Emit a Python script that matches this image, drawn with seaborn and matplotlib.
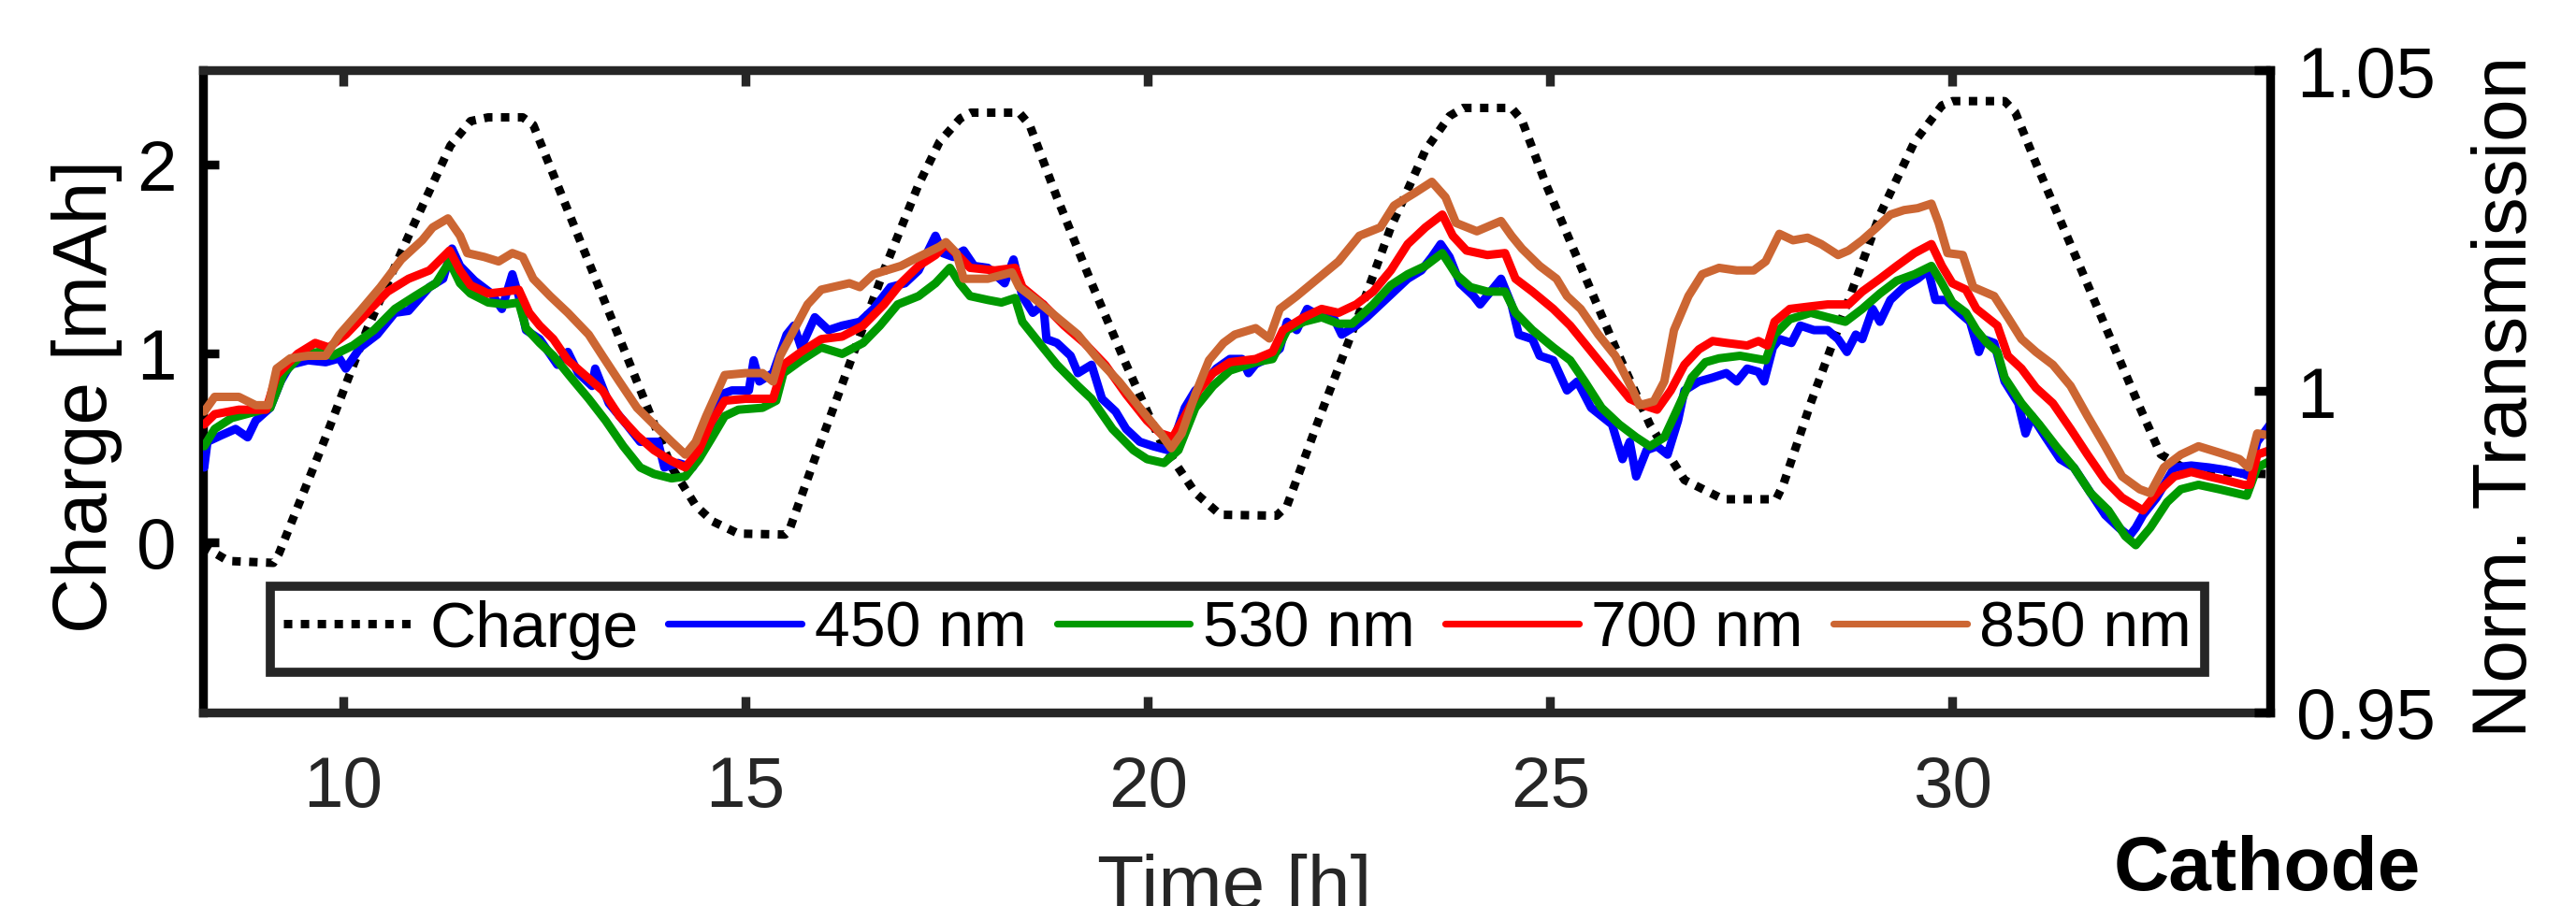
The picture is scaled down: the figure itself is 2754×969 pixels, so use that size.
import numpy as np
import pandas as pd
import matplotlib
matplotlib.use("Agg")
import matplotlib.pyplot as plt
from matplotlib.lines import Line2D
import seaborn as sns

# ---------------- data ----------------
charge_t = [8.25, 8.33, 8.57, 9.13, 9.20, 9.78, 10.29, 10.81, 11.33, 11.58, 11.80, 12.23, 12.36,
            12.79, 13.22, 13.65, 14.08, 14.38, 14.59, 14.91, 15.49, 15.54, 15.86, 16.29, 16.72,
            17.15, 17.41, 17.67, 17.80, 18.40, 18.53, 18.87, 19.30, 19.73, 20.16, 20.59, 20.90,
            21.60, 21.73, 22.16, 22.59, 23.02, 23.45, 23.75, 23.92, 24.52, 24.65, 24.95, 25.38,
            25.81, 26.24, 26.67, 27.10, 27.19, 27.81, 27.90, 28.24, 28.67, 29.10, 29.53, 29.87,
            30.00, 30.65, 30.78, 31.04, 31.47, 31.90, 32.33, 32.59, 32.85, 33.20, 33.95]
charge_mah = [-0.02, -0.04, -0.10, -0.11, -0.06, 0.556, 1.123, 1.622, 2.10, 2.23, 2.25, 2.25, 2.21,
              1.757, 1.304, 0.85, 0.397, 0.193, 0.11, 0.045, 0.04, 0.06, 0.442, 0.941, 1.44,
              1.894, 2.12, 2.245, 2.275, 2.275, 2.21, 1.826, 1.372, 0.941, 0.533, 0.261, 0.145,
              0.14, 0.193, 0.69, 1.168, 1.667, 2.076, 2.257, 2.30, 2.30, 2.234, 1.894, 1.462,
              1.032, 0.623, 0.329, 0.238, 0.227, 0.227, 0.306, 0.737, 1.236, 1.735, 2.12, 2.313,
              2.336, 2.336, 2.279, 2.007, 1.576, 1.145, 0.714, 0.465, 0.40, 0.37, 0.36]

t_450 = [8.27, 8.31, 8.48, 8.66, 8.81, 8.91, 9.09, 9.22, 9.34, 9.56, 9.78, 9.95, 10.03, 10.21, 10.42,
         10.64, 10.81, 11.07, 11.24, 11.35, 11.45, 11.63, 11.84, 11.97, 12.10, 12.18, 12.27, 12.44,
         12.66, 12.79, 12.92, 13.09, 13.13, 13.30, 13.52, 13.69, 13.91, 13.99, 14.16, 14.34, 14.51,
         14.70, 14.83, 15.04, 15.10, 15.17, 15.34, 15.51, 15.60, 15.69, 15.86, 16.03, 16.20, 16.42,
         16.59, 16.80, 16.98, 17.15, 17.36, 17.45, 17.58, 17.71, 17.84, 18.01, 18.22, 18.33, 18.44,
         18.57, 18.70, 18.74, 18.87, 19.04, 19.13, 19.30, 19.43, 19.60, 19.73, 19.90, 20.07, 20.25,
         20.35, 20.46, 20.59, 20.72, 20.85, 21.02, 21.17, 21.25, 21.34, 21.51, 21.64, 21.73, 21.85,
         21.98, 22.16, 22.28, 22.41, 22.59, 22.72, 22.89, 23.06, 23.23, 23.40, 23.53, 23.64, 23.75,
         23.88, 24.05, 24.13, 24.26, 24.39, 24.52, 24.61, 24.78, 24.87, 25.04, 25.21, 25.34, 25.51,
         25.64, 25.77, 25.90, 25.99, 26.07, 26.20, 26.33, 26.46, 26.59, 26.67, 26.85, 27.02, 27.19,
         27.32, 27.45, 27.59, 27.66, 27.77, 27.85, 28.00, 28.11, 28.28, 28.45, 28.58, 28.69, 28.80,
         28.88, 29.01, 29.10, 29.23, 29.40, 29.57, 29.70, 29.79, 29.92, 30.09, 30.22, 30.33, 30.39,
         30.52, 30.65, 30.82, 30.91, 30.99, 31.16, 31.34, 31.51, 31.72, 31.90, 32.07, 32.20, 32.28,
         32.37, 32.54, 32.76, 32.97, 33.19, 33.40, 33.62, 33.68, 33.79, 33.95]
tr_450 = [0.9881, 0.9921, 0.9931, 0.9941, 0.9928, 0.9954, 0.9974, 1.0015, 1.0041, 1.0048, 1.0045,
          1.0051, 1.0035, 1.0068, 1.0088, 1.0122, 1.0125, 1.0162, 1.0175, 1.0222, 1.0195, 1.0172,
          1.0152, 1.0128, 1.0182, 1.0148, 1.0095, 1.0081, 1.0041, 1.0061, 1.0028, 1.0008, 1.0035,
          0.9981, 0.9948, 0.9921, 0.9921, 0.9881, 0.9888, 0.9881, 0.9921, 0.9995, 1.0001, 1.0001,
          1.0048, 1.0015, 1.0028, 1.0088, 1.0102, 1.0068, 1.0115, 1.0095, 1.0102, 1.0108, 1.0128,
          1.0162, 1.0168, 1.0188, 1.0242, 1.0215, 1.0209, 1.0219, 1.0195, 1.0192, 1.0168, 1.0205,
          1.0148, 1.0122, 1.0135, 1.0081, 1.0075, 1.0055, 1.0028, 1.0041, 0.9988, 0.9968, 0.9941,
          0.9921, 0.9914, 0.9908, 0.9934, 0.9974, 1.0001, 1.0015, 1.0035, 1.0050, 1.0050, 1.0028,
          1.0042, 1.0052, 1.0066, 1.0108, 1.0095, 1.0128, 1.0115, 1.0122, 1.0088, 1.0102, 1.0115,
          1.0135, 1.0155, 1.0175, 1.0188, 1.0209, 1.0229, 1.0209, 1.0168, 1.0148, 1.0135, 1.0155,
          1.0175, 1.0135, 1.0088, 1.0081, 1.0055, 1.0048, 1.0001, 1.0015, 0.9974, 0.9961, 0.9948,
          0.9894, 0.9921, 0.9867, 0.9908, 0.9914, 0.9901, 0.9954, 1.0001, 1.0015, 1.0021, 1.0028,
          1.0015, 1.0035, 1.0030, 1.0015, 1.0068, 1.0081, 1.0075, 1.0102, 1.0095, 1.0095, 1.0081,
          1.0061, 1.0088, 1.0081, 1.0128, 1.0108, 1.0142, 1.0162, 1.0175, 1.0188, 1.0142, 1.0142,
          1.0122, 1.0108, 1.0061, 1.0081, 1.0075, 1.0015, 0.9981, 0.9934, 0.9961, 0.9928, 0.9894,
          0.9881, 0.9841, 0.9807, 0.9787, 0.9774, 0.9787, 0.9807, 0.9834, 0.9881, 0.9884, 0.9881,
          0.9877, 0.9871, 0.9868, 0.9921, 0.9948]

t_530 = [8.27, 8.40, 8.61, 8.91, 9.09, 9.26, 9.47, 9.69, 9.86, 10.12, 10.38, 10.64, 10.89, 11.15,
         11.32, 11.45, 11.58, 11.80, 12.01, 12.18, 12.27, 12.44, 12.61, 12.83, 13.05, 13.26, 13.48,
         13.69, 13.86, 14.08, 14.25, 14.42, 14.57, 14.74, 14.91, 15.21, 15.38, 15.47, 15.69, 15.94,
         16.20, 16.46, 16.67, 16.89, 17.15, 17.36, 17.54, 17.66, 17.79, 18.01, 18.18, 18.35, 18.44,
         18.65, 18.87, 19.13, 19.30, 19.56, 19.82, 19.99, 20.20, 20.38, 20.59, 20.81, 21.02, 21.34,
         21.55, 21.73, 21.94, 22.16, 22.37, 22.54, 22.80, 23.02, 23.23, 23.45, 23.66, 23.83, 24.01,
         24.22, 24.44, 24.57, 24.78, 25.04, 25.25, 25.43, 25.64, 25.86, 26.07, 26.24, 26.42, 26.59,
         26.76, 26.93, 27.10, 27.36, 27.59, 27.68, 27.79, 27.98, 28.24, 28.45, 28.67, 28.88, 29.10,
         29.31, 29.53, 29.74, 29.87, 30.00, 30.17, 30.30, 30.43, 30.56, 30.65, 30.86, 31.08, 31.29,
         31.51, 31.72, 31.94, 32.15, 32.28, 32.46, 32.67, 32.84, 33.06, 33.32, 33.66, 33.79, 33.95]
tr_530 = [0.9914, 0.9941, 0.9958, 0.9968, 0.9974, 1.0028, 1.0055, 1.0061, 1.0055, 1.0071, 1.0095,
          1.0128, 1.0148, 1.0168, 1.0202, 1.0168, 1.0152, 1.0138, 1.0135, 1.0138, 1.0098, 1.0075,
          1.0055, 1.0021, 0.9988, 0.9954, 0.9914, 0.9881, 0.9871, 0.9864, 0.9867, 0.9894, 0.9925,
          0.9961, 0.9971, 0.9974, 0.9985, 1.0028, 1.0048, 1.0068, 1.0058, 1.0075, 1.0102, 1.0135,
          1.0148, 1.0168, 1.0192, 1.0168, 1.0148, 1.0142, 1.0138, 1.0145, 1.0108, 1.0075, 1.0041,
          1.0008, 0.9988, 0.9941, 0.9908, 0.9894, 0.9888, 0.9908, 0.9974, 1.0008, 1.0032, 1.0045,
          1.0050, 1.0095, 1.0108, 1.0115, 1.0105, 1.0105, 1.0135, 1.0165, 1.0182, 1.0195, 1.0215,
          1.0182, 1.0162, 1.0155, 1.0155, 1.0122, 1.0095, 1.0068, 1.0048, 1.0015, 0.9974, 0.9948,
          0.9928, 0.9914, 0.9928, 0.9974, 1.0021, 1.0045, 1.0051, 1.0055, 1.0050, 1.0048, 1.0088,
          1.0112, 1.0122, 1.0115, 1.0108, 1.0128, 1.0152, 1.0172, 1.0182, 1.0195, 1.0168, 1.0138,
          1.0122, 1.0095, 1.0075, 1.0061, 1.0021, 0.9981, 0.9948, 0.9914, 0.9881, 0.9841, 0.9814,
          0.9774, 0.9760, 0.9787, 0.9827, 0.9847, 0.9854, 0.9847, 0.9837, 0.9881, 0.9891]

t_700 = [8.27, 8.40, 8.70, 9.04, 9.17, 9.43, 9.65, 9.82, 10.03, 10.29, 10.55, 10.81, 11.07, 11.32,
         11.45, 11.58, 11.80, 12.01, 12.18, 12.31, 12.44, 12.61, 12.79, 13.00, 13.22, 13.43, 13.65,
         13.86, 14.08, 14.25, 14.42, 14.57, 14.74, 15.00, 15.34, 15.47, 15.69, 15.94, 16.20, 16.46,
         16.72, 16.93, 17.15, 17.36, 17.49, 17.66, 17.79, 18.10, 18.35, 18.44, 18.70, 18.96, 19.21,
         19.47, 19.73, 19.99, 20.16, 20.31, 20.46, 20.63, 20.81, 21.02, 21.34, 21.55, 21.68, 21.94,
         22.16, 22.37, 22.59, 22.80, 23.02, 23.23, 23.45, 23.66, 23.79, 23.96, 24.22, 24.44, 24.57,
         24.78, 25.04, 25.25, 25.47, 25.73, 25.99, 26.16, 26.33, 26.50, 26.67, 26.85, 27.02, 27.19,
         27.45, 27.59, 27.70, 27.79, 27.98, 28.24, 28.45, 28.71, 28.88, 29.10, 29.31, 29.53, 29.74,
         29.87, 30.00, 30.17, 30.30, 30.56, 30.69, 30.86, 31.04, 31.25, 31.47, 31.68, 31.90, 32.11,
         32.37, 32.54, 32.76, 32.97, 33.19, 33.40, 33.62, 33.70, 33.79, 33.95]
tr_700 = [0.9948, 0.9964, 0.9971, 0.9971, 1.0025, 1.0058, 1.0075, 1.0068, 1.0088, 1.0122, 1.0155,
          1.0175, 1.0188, 1.0219, 1.0188, 1.0165, 1.0152, 1.0155, 1.0158, 1.0122, 1.0102, 1.0081,
          1.0048, 1.0025, 1.0001, 0.9961, 0.9931, 0.9908, 0.9891, 0.9881, 0.9908, 0.9951, 0.9985,
          0.9988, 0.9988, 1.0041, 1.0061, 1.0081, 1.0085, 1.0102, 1.0135, 1.0168, 1.0195, 1.0212,
          1.0229, 1.0209, 1.0192, 1.0188, 1.0192, 1.0162, 1.0135, 1.0102, 1.0075, 1.0041, 0.9995,
          0.9954, 0.9934, 0.9928, 0.9961, 1.0001, 1.0028, 1.0045, 1.0050, 1.0061, 1.0095, 1.0115,
          1.0128, 1.0122, 1.0135, 1.0155, 1.0188, 1.0229, 1.0255, 1.0275, 1.0242, 1.0219, 1.0212,
          1.0215, 1.0175, 1.0155, 1.0128, 1.0102, 1.0068, 1.0028, 0.9988, 0.9978, 0.9971, 1.0001,
          1.0041, 1.0065, 1.0078, 1.0075, 1.0071, 1.0078, 1.0071, 1.0108, 1.0128, 1.0132, 1.0135,
          1.0135, 1.0155, 1.0175, 1.0195, 1.0215, 1.0229, 1.0195, 1.0168, 1.0158, 1.0128, 1.0102,
          1.0055, 1.0035, 1.0005, 0.9981, 0.9941, 0.9901, 0.9861, 0.9834, 0.9814, 0.9841, 0.9867,
          0.9874, 0.9867, 0.9861, 0.9854, 0.9854, 0.9901, 0.9908]

t_850 = [8.27, 8.40, 8.70, 8.91, 9.07, 9.17, 9.34, 9.56, 9.78, 9.95, 10.21, 10.46, 10.72, 10.98,
         11.11, 11.30, 11.45, 11.54, 11.75, 11.93, 12.10, 12.23, 12.36, 12.57, 12.79, 13.05, 13.22,
         13.43, 13.65, 13.86, 14.08, 14.25, 14.38, 14.51, 14.74, 15.00, 15.21, 15.34, 15.43, 15.60,
         15.77, 15.94, 16.29, 16.42, 16.59, 16.93, 17.15, 17.41, 17.49, 17.62, 17.71, 18.01, 18.31,
         18.40, 18.61, 18.87, 19.13, 19.39, 19.64, 19.90, 20.16, 20.29, 20.42, 20.59, 20.76, 20.94,
         21.08, 21.34, 21.51, 21.64, 21.85, 22.11, 22.37, 22.63, 22.89, 23.06, 23.32, 23.53, 23.70,
         23.83, 24.09, 24.39, 24.52, 24.65, 24.87, 25.08, 25.21, 25.38, 25.60, 25.81, 26.03, 26.11,
         26.29, 26.42, 26.54, 26.72, 26.89, 27.10, 27.32, 27.53, 27.68, 27.81, 27.85, 28.02, 28.20,
         28.37, 28.58, 28.71, 28.88, 29.06, 29.23, 29.40, 29.57, 29.74, 29.83, 29.94, 30.13, 30.26,
         30.52, 30.69, 30.86, 31.04, 31.25, 31.47, 31.68, 31.90, 32.11, 32.33, 32.46, 32.63, 32.84,
         33.06, 33.32, 33.57, 33.68, 33.79, 33.95]
tr_850 = [0.9968, 0.9991, 0.9991, 0.9978, 0.9978, 1.0035, 1.0051, 1.0055, 1.0055, 1.0088, 1.0125,
          1.0162, 1.0205, 1.0235, 1.0255, 1.0269, 1.0242, 1.0215, 1.0209, 1.0202, 1.0215, 1.0209,
          1.0175, 1.0148, 1.0122, 1.0088, 1.0055, 1.0015, 0.9974, 0.9948, 0.9921, 0.9901, 0.9921,
          0.9961, 1.0025, 1.0028, 1.0028, 1.0015, 1.0055, 1.0095, 1.0135, 1.0158, 1.0168, 1.0162,
          1.0182, 1.0195, 1.0209, 1.0225, 1.0232, 1.0215, 1.0175, 1.0175, 1.0185, 1.0162, 1.0142,
          1.0115, 1.0088, 1.0048, 1.0015, 0.9974, 0.9934, 0.9911, 0.9934, 0.9995, 1.0048, 1.0075,
          1.0088, 1.0098, 1.0082, 1.0128, 1.0148, 1.0175, 1.0202, 1.0242, 1.0255, 1.0289, 1.0309,
          1.0326, 1.0302, 1.0262, 1.0249, 1.0265, 1.0242, 1.0222, 1.0195, 1.0175, 1.0148, 1.0128,
          1.0088, 1.0055, 1.0001, 0.9978, 0.9984, 1.0015, 1.0095, 1.0148, 1.0182, 1.0192, 1.0188,
          1.0188, 1.0202, 1.0235, 1.0245, 1.0235, 1.0239, 1.0229, 1.0212, 1.0219, 1.0235, 1.0255,
          1.0275, 1.0282, 1.0285, 1.0292, 1.0262, 1.0215, 1.0212, 1.0162, 1.0148, 1.0115, 1.0081,
          1.0061, 1.0041, 1.0008, 0.9961, 0.9914, 0.9867, 0.9847, 0.9841, 0.9881, 0.9901, 0.9914,
          0.9904, 0.9894, 0.9881, 0.9934, 0.9931]

series_names = ["450 nm", "530 nm", "700 nm", "850 nm"]
series_colors = ["#0000FF", "#009900", "#FF0000", "#CC6633"]
charge_label = "Charge"

x_ticks = [10, 15, 20, 25, 30]
x_ticklabels = ["10", "15", "20", "25", "30"]
left_ticks = [0, 1, 2]
left_ticklabels = ["0", "1", "2"]
right_ticks = [0.95, 1.0, 1.05]
right_ticklabels = ["0.95", "1", "1.05"]

# ---------------- style ----------------
sns.set_theme(style="white")
plt.rcParams["font.family"] = ["Liberation Sans", "DejaVu Sans"]

DARK = "#262626"
SPINE_LW = 6.8
LINE_LW = 6.5
DOT_LW = 6.5
DOT_STYLE = (0, (1.0, 1.0))

fig = plt.figure(figsize=(27.54, 9.70), dpi=100)
ax = fig.add_axes([0.07865, 0.2139, 0.8026, 0.7077])
ax2 = ax.twinx()
ax.set_facecolor("white")
ax2.patch.set_visible(False)

# charge (left axis)
sns.lineplot(x=charge_t, y=charge_mah, ax=ax, color="black", linewidth=DOT_LW,
             linestyle=DOT_STYLE, sort=False, estimator=None)

# transmission (right axis)
frames = []
for name, tt, vv in zip(series_names, [t_450, t_530, t_700, t_850], [tr_450, tr_530, tr_700, tr_850]):
    frames.append(pd.DataFrame({"t": tt, "T": vv, "series": name}))
df = pd.concat(frames, ignore_index=True)
sns.lineplot(data=df, x="t", y="T", hue="series", hue_order=series_names,
             palette=dict(zip(series_names, series_colors)), ax=ax2, linewidth=LINE_LW,
             estimator=None, sort=False, legend=False)
for ln in ax2.get_lines():
    ln.set_solid_joinstyle("round")

ax.set_xlim(8.25, 33.95)
ax.set_ylim(-0.9, 2.5)
ax2.set_ylim(0.95, 1.05)

ax.set_xticks(x_ticks)
ax.set_xticklabels(x_ticklabels)
ax.set_yticks(left_ticks)
ax.set_yticklabels(left_ticklabels)
ax2.set_yticks(right_ticks)
ax2.set_yticklabels(right_ticklabels)

# spines
for s in ["top", "bottom"]:
    ax.spines[s].set_color(DARK)
    ax.spines[s].set_linewidth(SPINE_LW)
ax.spines["left"].set_color("black")
ax.spines["left"].set_linewidth(SPINE_LW)
ax.spines["right"].set_visible(False)
for s in ["left", "top", "bottom"]:
    ax2.spines[s].set_visible(False)
ax2.spines["right"].set_color("black")
ax2.spines["right"].set_linewidth(SPINE_LW)

ax.tick_params(axis="x", which="major", direction="in", top=True, bottom=True, length=12,
               width=SPINE_LW, color=DARK, labelcolor=DARK, labelsize=55, pad=33)
ax.tick_params(axis="y", which="major", direction="in", left=True, right=False, length=12,
               width=SPINE_LW, color="black", labelcolor="black", labelsize=55, pad=20)
ax2.tick_params(axis="y", which="major", direction="in", right=True, left=False, length=12,
                width=SPINE_LW, color="black", labelcolor="black", labelsize=55, pad=20)
ax.grid(False)
ax2.grid(False)

ax.set_xlabel("Time [h]", fontsize=59, color=DARK)
ax.xaxis.set_label_coords(0.4992, -0.219)
ax.set_ylabel("Charge [mAh]", fontsize=59, color="black")
ax.yaxis.set_label_coords(-0.0387, 0.493)
ax2.set_ylabel("Norm. Transmission", fontsize=59, color="black")
ax2.yaxis.set_label_coords(1.0973, 0.493)

# legend
handles = [Line2D([0], [0], color="black", linewidth=DOT_LW, linestyle=DOT_STYLE)]
handles += [Line2D([0], [0], color=c, linewidth=5.2) for c in series_colors]
labels = [charge_label] + series_names
leg = ax2.legend(handles, labels, loc="center", bbox_to_anchor=(0.5005, 0.129), ncol=5,
                 fontsize=49, handlelength=2.1, handletextpad=0.2, columnspacing=0.47,
                 borderpad=0.2, frameon=True, fancybox=False, edgecolor=DARK, framealpha=1)
leg.get_frame().set_linewidth(7)
for txt in leg.get_texts():
    txt.set_color("black")

fig.text(0.9397, 0.0186, "Cathode", ha="right", va="baseline", fontsize=59,
         fontweight="bold", color="black")

fig.savefig("out.png", dpi=100, facecolor="white")
